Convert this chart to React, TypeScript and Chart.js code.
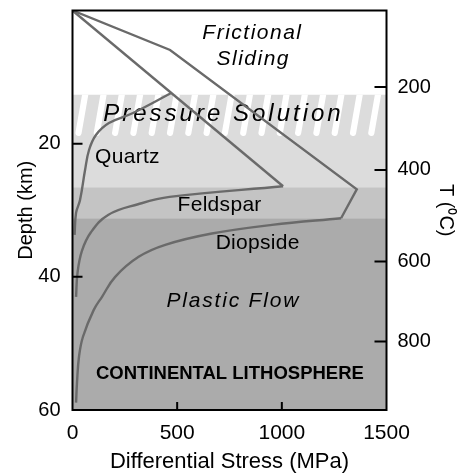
import React, { useEffect, useRef } from 'react';
import { Chart, registerables } from 'chart.js';

Chart.register(...registerables);

// ---- axes ----
const stressMin = 0;
const stressMax = 1500;
const stressStep = 500;
const depthMin = 0;
const depthMax = 60;
const depthStep = 10;
const depthLabelled = [20, 40, 60];
const tempLabels = [200, 400, 600, 800];
const tempDepths = [11.5, 23.95, 37.7, 49.7];

// ---- background zones (depth, km) ----
const bandEdges = [0, 12.65, 26.55, 31.2, 60];
const bandColors = ['#ffffff', '#dcdcdc', '#c4c4c4', '#ababab'];
const hatchRange = [12.65, 18.85];

// ---- strength envelopes ----
const frictionOuterStress = [0, 466, 1358, 1283];
const frictionOuterDepth = [0, 5.93, 26.86, 31.2];
const frictionInnerStress = [0, 1006];
const frictionInnerDepth = [0, 26.4];

const quartzStress = [472, 289, 174, 112, 79, 60, 36, 17, 10];
const quartzDepth = [12.39, 15.4, 16.9, 18.7, 20.95, 23.96, 28.46, 30.4, 33.7];

const feldsparStress = [1006, 464, 313, 170, 88, 45, 24, 17];
const feldsparDepth = [26.4, 28.0, 29.1, 30.7, 33.3, 36.1, 39.4, 43.0];

const diopsideStress = [1283, 953, 666, 443, 316, 204, 141, 101, 50, 31, 21.5, 17];
const diopsideDepth = [31.2, 32.2, 33.5, 35.2, 37.0, 40.0, 43.0, 45.0, 49.0, 52.0, 55.9, 58.9];

// ---- text labels (in data units) ----
const labelTexts = [
  'Frictional',
  'Sliding',
  'Pressure Solution',
  'Quartz',
  'Feldspar',
  'Diopside',
  'Plastic Flow',
  'CONTINENTAL LITHOSPHERE',
];
const labelStress = [856, 860, 714, 262, 702, 884, 764, 752];
const labelDepth = [3.4, 7.25, 15.55, 22.0, 29.3, 35.0, 43.7, 54.6];

const FONT = '"Liberation Sans", Arial, Helvetica, sans-serif';
const labelStyles = [
  { font: `italic 21px ${FONT}`, spacing: 1.5 },
  { font: `italic 21px ${FONT}`, spacing: 1.5 },
  { font: `italic 24px ${FONT}`, spacing: 3 },
  { font: `21px ${FONT}`, spacing: 0.3 },
  { font: `21px ${FONT}`, spacing: 0.3 },
  { font: `21px ${FONT}`, spacing: 0.3 },
  { font: `italic 21px ${FONT}`, spacing: 1.8 },
  { font: `bold 18.5px ${FONT}`, spacing: 0 },
];

const LINE_COLOR = '#6a6a6a';

const toPoints = (xs: number[], ys: number[]) => xs.map((x, i) => ({ x, y: ys[i] }));

const zonesPlugin = {
  id: 'zones',
  beforeDatasetsDraw(chart: any) {
    const { ctx, chartArea: a, scales } = chart;
    const x = scales.x;
    const y = scales.y;
    ctx.save();
    for (let i = 0; i < bandColors.length; i++) {
      const t = y.getPixelForValue(bandEdges[i]);
      const b = y.getPixelForValue(bandEdges[i + 1]);
      ctx.fillStyle = bandColors[i];
      ctx.fillRect(a.left, t, a.right - a.left, b - t);
    }
    // hatch of the pressure-solution zone
    const ht = y.getPixelForValue(hatchRange[0]);
    const hb = y.getPixelForValue(hatchRange[1]);
    ctx.save();
    ctx.beginPath();
    ctx.rect(a.left, ht, a.right - a.left, hb - ht);
    ctx.clip();
    ctx.strokeStyle = '#ffffff';
    ctx.lineWidth = 6.2;
    ctx.lineCap = 'round';
    const r = 3.1;
    const slope = 0.175;
    for (let xb = a.left + 6; xb < a.right + 20; xb += 18.3) {
      const yb = hb - r;
      const yt = ht - 10;
      ctx.beginPath();
      ctx.moveTo(xb, yb);
      ctx.lineTo(xb + slope * (yb - yt), yt);
      ctx.stroke();
    }
    ctx.restore();

    // labels
    ctx.fillStyle = '#000';
    ctx.textBaseline = 'middle';
    ctx.textAlign = 'left';
    for (let i = 0; i < labelTexts.length; i++) {
      const st = labelStyles[i];
      ctx.font = st.font;
      (ctx as any).letterSpacing = `${st.spacing}px`;
      const w = ctx.measureText(labelTexts[i]).width - st.spacing;
      const cx = x.getPixelForValue(labelStress[i]);
      const cy = y.getPixelForValue(labelDepth[i]);
      ctx.fillText(labelTexts[i], cx - w / 2, cy);
    }
    (ctx as any).letterSpacing = '0px';
    ctx.restore();
  },
  afterDatasetsDraw(chart: any) {
    const { ctx, chartArea: a, scales } = chart;
    ctx.save();
    ctx.strokeStyle = '#000';
    ctx.lineWidth = 2;
    ctx.lineCap = 'butt';
    // inward ticks
    ctx.beginPath();
    for (const t of scales.x.ticks) {
      if (t.value <= stressMin || t.value >= stressMax) continue;
      const px = scales.x.getPixelForValue(t.value);
      ctx.moveTo(px, a.bottom);
      ctx.lineTo(px, a.bottom - 8);
    }
    for (const t of scales.y.ticks) {
      if (t.value <= depthMin || t.value >= depthMax) continue;
      const py = scales.y.getPixelForValue(t.value);
      ctx.moveTo(a.left, py);
      ctx.lineTo(a.left + 10, py);
    }
    for (const t of scales.y2.ticks) {
      const py = scales.y2.getPixelForValue(t.value);
      ctx.moveTo(a.right, py);
      ctx.lineTo(a.right - 12, py);
    }
    ctx.stroke();
    // frame
    ctx.strokeRect(a.left, a.top, a.right - a.left, a.bottom - a.top);
    ctx.restore();
  },
};

const fixVertical = (w: number) => (s: any) => {
  s.width = w;
  s.paddingTop = 0;
  s.paddingBottom = 0;
};

export default function App() {
  const ref = useRef<HTMLCanvasElement | null>(null);

  useEffect(() => {
    if (!ref.current) return;
    Chart.defaults.font.family = FONT;
    Chart.defaults.color = '#000';

    const lineDs = (data: any[], tension: number) => ({
      data,
      borderColor: LINE_COLOR,
      borderWidth: 2.4,
      pointRadius: 0,
      fill: false,
      tension,
      showLine: true,
    });

    const chart = new Chart(ref.current, {
      type: 'line',
      data: {
        datasets: [
          lineDs(toPoints(frictionOuterStress, frictionOuterDepth), 0),
          lineDs(toPoints(frictionInnerStress, frictionInnerDepth), 0),
          lineDs(toPoints(quartzStress, quartzDepth), 0.4),
          lineDs(toPoints(feldsparStress, feldsparDepth), 0.4),
          lineDs(toPoints(diopsideStress, diopsideDepth), 0.4),
        ] as any,
      },
      options: {
        responsive: false,
        animation: false,
        events: [],
        layout: { padding: { top: 10.5, left: 0, right: 0, bottom: 0 } },
        plugins: {
          legend: { display: false },
          tooltip: { enabled: false },
        },
        scales: {
          x: {
            type: 'linear',
            position: 'bottom',
            min: stressMin,
            max: stressMax,
            grid: { display: false, drawTicks: false },
            border: { display: false },
            ticks: {
              stepSize: stressStep,
              font: { size: 21 },
              padding: 11,
              maxRotation: 0,
              autoSkip: false,
              callback: (v: any) => String(v),
            },
            title: {
              display: true,
              text: 'Differential Stress (MPa)',
              font: { size: 22 },
              padding: { top: 0, bottom: 0 },
            },
            afterFit: (s: any) => {
              s.height = 65;
              s.paddingLeft = 0;
              s.paddingRight = 0;
            },
          },
          y: {
            type: 'linear',
            position: 'left',
            reverse: true,
            min: depthMin,
            max: depthMax,
            grid: { display: false, drawTicks: false },
            border: { display: false },
            ticks: {
              stepSize: depthStep,
              font: { size: 20 },
              padding: 12,
              autoSkip: false,
              callback: (v: any) => (depthLabelled.includes(v) ? String(v) : null),
            },
            title: {
              display: true,
              text: 'Depth (km)',
              font: { size: 20 },
              padding: { top: 14, bottom: 0 },
            },
            afterFit: fixVertical(72.5),
          },
          y2: {
            type: 'linear',
            position: 'right',
            reverse: true,
            min: depthMin,
            max: depthMax,
            grid: { display: false, drawTicks: false },
            border: { display: false },
            afterBuildTicks: (s: any) => {
              s.ticks = tempDepths.map((v) => ({ value: v }));
            },
            ticks: {
              font: { size: 20 },
              padding: 11,
              autoSkip: false,
              callback: (_v: any, i: number) => String(tempLabels[i]),
            },
            title: {
              display: true,
              text: 'T (\u2070C)',
              font: { size: 20 },
              padding: { top: 7, bottom: 0 },
            },
            afterFit: fixVertical(78.5),
          },
        },
      } as any,
      plugins: [zonesPlugin],
    });

    return () => {
      chart.destroy();
    };
  }, []);

  return (
    <div style={{ position: 'absolute', left: 0, top: 0, width: 465, height: 475 }}>
      <canvas ref={ref} width={465} height={475} />
    </div>
  );
}
